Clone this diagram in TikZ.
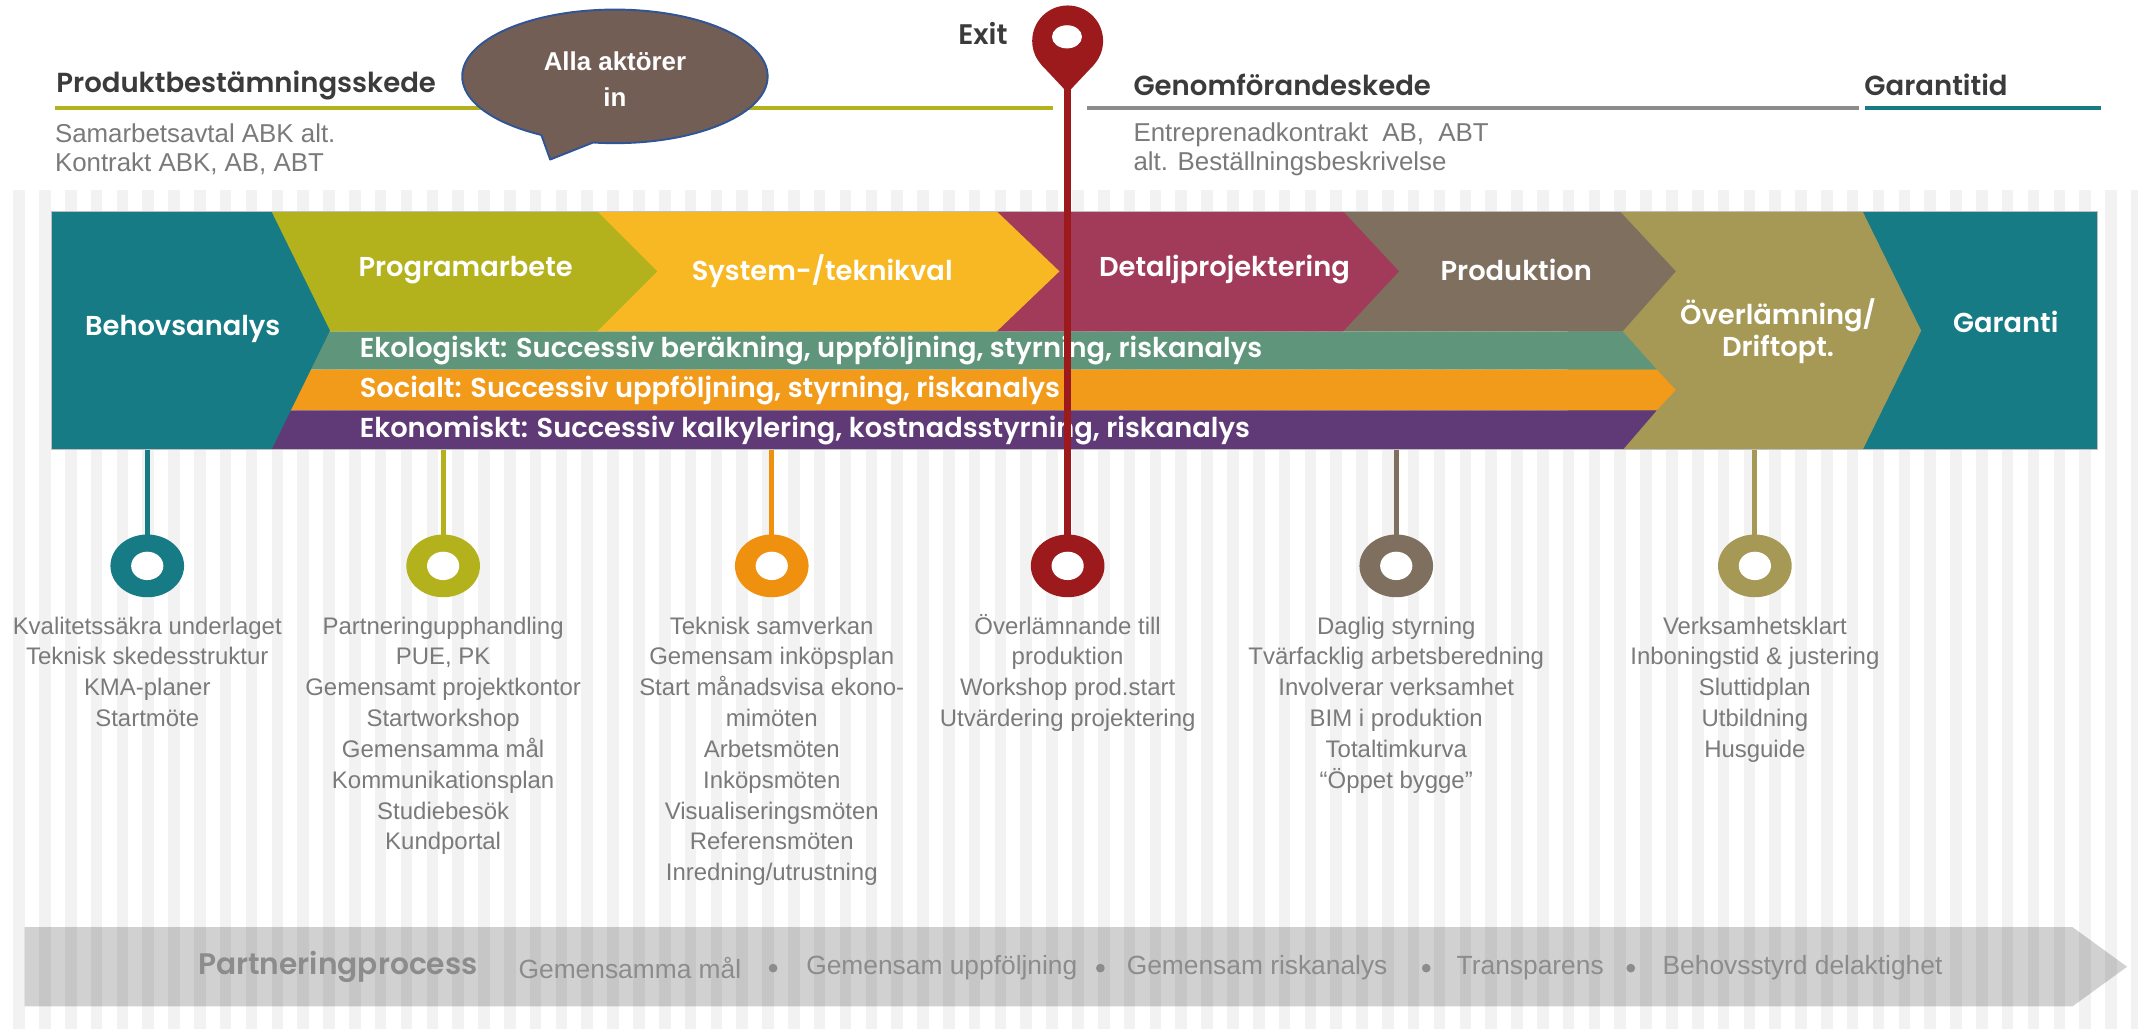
\documentclass[tikz,border=0pt]{standalone}
\usepackage{fontspec}
\setmainfont{Liberation Sans}
\newfontfamily\headfont{Poppins SemiBold}
\usetikzlibrary{positioning}

\definecolor{petrol}{HTML}{177B86}
\definecolor{oliv}{HTML}{B3B21D}
\definecolor{gul}{HTML}{F8B823}
\definecolor{vinrod}{HTML}{A13B59}
\definecolor{brun}{HTML}{7F6F5F}
\definecolor{khaki}{HTML}{A69855}
\definecolor{gron}{HTML}{5F957A}
\definecolor{orangeband}{HTML}{F29A1A}
\definecolor{orangering}{HTML}{F0900F}
\definecolor{lila}{HTML}{5F3A77}
\definecolor{pinred}{HTML}{9C1A1C}
\definecolor{bubbelbrun}{HTML}{735E55}
\definecolor{bubbelkant}{HTML}{2F5597}
\definecolor{rubrikgra}{HTML}{3B3B3B}
\definecolor{textgra}{HTML}{7A7A7A}
\definecolor{linjegra}{HTML}{8C8C8C}
\definecolor{randgra}{HTML}{F2F2F2}

\begin{document}
\begin{tikzpicture}[x=0.02cm,y=-0.02cm,
	rubrik/.style={font=\headfont\fontsize{11.5}{13}\selectfont, text=rubrikgra, inner sep=0, anchor=west},
	avtal/.style={font=\fontsize{10.8}{11.8}\selectfont, text=textgra, align=left, inner sep=0, anchor=west},
	fas/.style={font=\headfont\fontsize{11.4}{13.2}\selectfont, text=white, inner sep=0, align=center},
	hallbar/.style={font=\headfont\fontsize{11.4}{12}\selectfont, text=white, inner sep=0, anchor=west},
	punkter/.style={font=\fontsize{10}{12.86}\selectfont, text=textgra, align=center, anchor=north, inner sep=0},
	process/.style={font=\fontsize{11}{13}\selectfont, text=linjegra, inner sep=0, anchor=west},
	stam/.style={line width=2.1pt},
	ring/.style={x radius=27, y radius=23},
	hal/.style={x radius=11.8, y radius=10.4}]
	\useasboundingbox (0,0) rectangle (1568,755);

	% randig bakgrund
	\foreach \i in {0,...,82}
		\fill[randgra] ({9.75+18.94*\i},139.5) rectangle ++(8.5,615.5);

	% skeden
	\draw[oliv, line width=1.7pt] (40,79.5) -- (772,79.5);
	\draw[linjegra, line width=1.7pt] (797,79.5) -- (1363,79.5);
	\draw[petrol, line width=1.7pt] (1368,79.5) -- (1541,79.5);
	\node[rubrik] (pbs) at (41,63) {Produktbestämningsskede};
	\node[rubrik] (gfs) at (831,62) {Genomförandeskede};
	\node[rubrik] (gt) at (1367,62) {Garantitid};
	\node[avtal] (avtal1) at (40,109.5) {Samarbetsavtal ABK alt.\\Kontrakt ABK, AB, ABT};
	\node[avtal] (avtal2) at (831,109.5) {Entreprenadkontrakt\ \ AB,\ \ ABT\\alt. Beställningsbeskrivelse};

	% pratbubbla
	\filldraw[fill=bubbelbrun, draw=bubbelkant, line width=0.8pt] (451,56) ellipse [x radius=112, y radius=49];
	\fill[bubbelbrun] (397,90) -- (397,98.9) -- (403.5,117) -- (435,104.5) -- (435,95) -- cycle;
	\draw[bubbelkant, line width=0.8pt, line join=round] (397,98.9) -- (403.5,117) -- (435,104.5);
	\node[font=\bfseries\fontsize{10.8}{15.4}\selectfont, text=white, align=center, inner sep=0] (alla) at (451,58) {Alla aktörer\\in};

	% exit
	\node[rubrik, font=\headfont\fontsize{11.8}{13}\selectfont] (exit) at (702.5,24.5) {Exit};
	\fill[pinred] (783,30) circle [radius=26];
	\fill[pinred] (764,47.8) -- (802,47.8) -- (783,68) -- cycle;
	\fill[white] (782.5,27) ellipse [x radius=11, y radius=8.5];

	% faser
	\fill[petrol] (1366,155) rectangle (1538,330);
	\fill[khaki] (1150,155) -- (1366,155) -- (1409,242.5) -- (1366,330) -- (1150,330) -- cycle;
	\fill[brun] (985,155) -- (1188,155) -- (1229,199) -- (1190,243) -- (985,243) -- cycle;
	\fill[gron] (199,243) -- (1190,243) -- (1215,271) -- (199,271) -- cycle;
	\fill[orangeband] (199,271) -- (1215,271) -- (1229,286) -- (1215,301) -- (199,301) -- cycle;
	\fill[lila] (199,301) -- (1215,301) -- (1190,330) -- (199,330) -- cycle;
	\fill[vinrod] (731,155) -- (985,155) -- (1026,199) -- (985,243) -- (731,243) -- cycle;
	\fill[gul] (438,155) -- (731,155) -- (777,199) -- (731,243) -- (438,243) -- cycle;
	\fill[oliv] (199,155) -- (438,155) -- (482,199) -- (438,243) -- (199,243) -- cycle;
	\fill[petrol] (38,155) -- (199,155) -- (242,242.5) -- (199,330) -- (38,330) -- cycle;
	\draw[black!25, line width=0.4pt] (38,155) rectangle (1538,330);

	\node[fas] (behov) at (134,241) {Behovsanalys};
	\node[fas] (prog) at (341.5,198) {Programarbete};
	\node[fas] (system) at (603,199) {System-/teknikval};
	\node[fas] (detalj) at (898,198) {Detaljprojektering};
	\node[fas] (prod) at (1112,198) {Produktion};
	\node[fas] (overl) at (1304,243) {Överlämning/\\Driftopt.};
	\node[fas] (garanti) at (1471,236) {Garanti};
	\node[hallbar] (ekol) at (263.5,257) {Ekologiskt: Successiv beräkning, uppföljning, styrning, riskanalys};
	\node[hallbar] (soc) at (263.5,286.5) {Socialt: Successiv uppföljning, styrning, riskanalys};
	\node[hallbar] (ekon) at (263.5,316) {Ekonomiskt: Successiv kalkylering, kostnadsstyrning, riskanalys};

	% milstolpar
	\foreach \x/\c in {108/petrol, 325/oliv, 566/orangering, 1024/brun, 1287/khaki}{
		\draw[stam, \c] (\x,330) -- (\x,395);
		\fill[\c] (\x,415) ellipse [ring];
		\fill[white] (\x,415) ellipse [hal];
	}
	\draw[pinred, line width=3pt] (783,64) -- (783,395);
	\fill[pinred] (783,415) ellipse [ring];
	\fill[white] (783,415) ellipse [hal];

	\node[punkter] (m1) at (108,452) {Kvalitetssäkra underlaget\\Teknisk skedesstruktur\\KMA-planer\\Startmöte};
	\node[punkter] (m2) at (325,452) {Partneringupphandling\\PUE, PK\\Gemensamt projektkontor\\Startworkshop\\Gemensamma mål\\Kommunikationsplan\\Studiebesök\\Kundportal};
	\node[punkter] (m3) at (566,452) {Teknisk samverkan\\Gemensam inköpsplan\\Start månadsvisa ekono-\\mimöten\\Arbetsmöten\\Inköpsmöten\\Visualiseringsmöten\\Referensmöten\\Inredning/utrustning};
	\node[punkter] (m4) at (783,450) {Överlämnande till\\produktion\\Workshop prod.start\\Utvärdering projektering};
	\node[punkter] (m5) at (1024,452) {Daglig styrning\\Tvärfacklig arbetsberedning\\Involverar verksamhet\\BIM i produktion\\Totaltimkurva\\“Öppet bygge”};
	\node[punkter] (m6) at (1287,452) {Verksamhetsklart\\Inboningstid \& justering\\Sluttidplan\\Utbildning\\Husguide};

	% partneringprocess
	\fill[black, fill opacity=0.18] (18,680) -- (1520,680) -- (1560,709) -- (1520,738) -- (18,738) -- cycle;
	\node[process, font=\headfont\fontsize{12.4}{14}\selectfont] (pp) at (145,709) {Partneringprocess};
	\node[process] (p1) at (380,710) {Gemensamma mål};
	\node[process] (p2) at (591,710) {Gemensam uppföljning};
	\node[process] (p3) at (826,710) {Gemensam riskanalys};
	\node[process] (p4) at (1068,710) {Transparens};
	\node[process] (p5) at (1219,710) {Behovsstyrd delaktighet};
	\foreach \x in {567,807,1046,1196}
		\fill[linjegra] (\x,710) circle [radius=3.2];
\end{tikzpicture}
\end{document}
